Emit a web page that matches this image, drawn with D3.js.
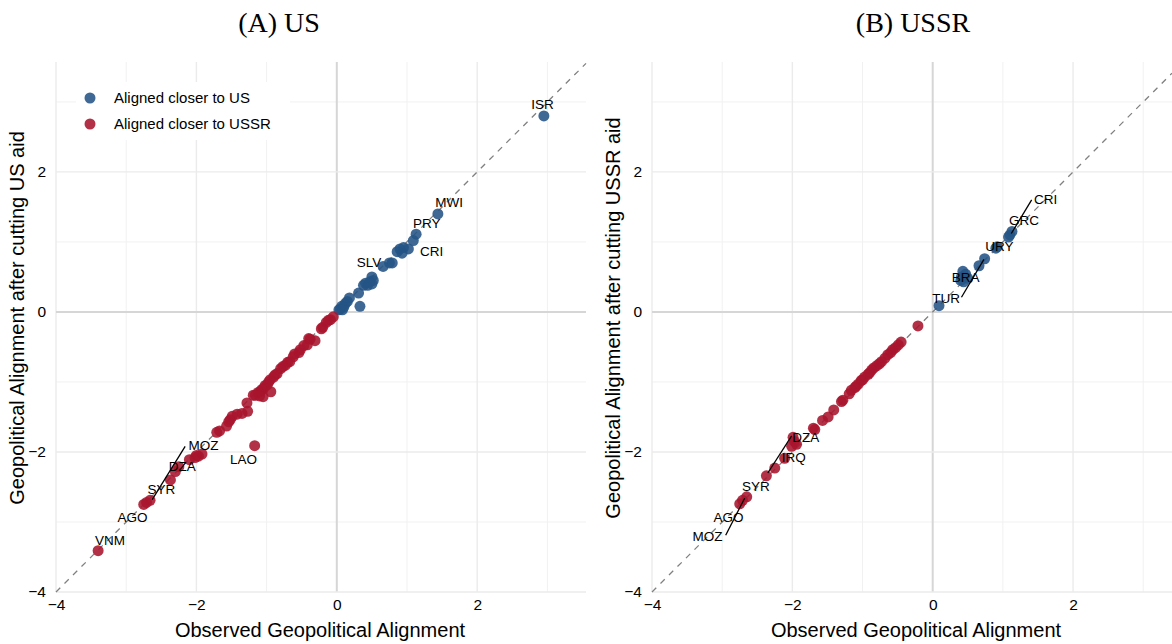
<!DOCTYPE html>
<html>
<head>
<meta charset="utf-8">
<script src="https://cdn.jsdelivr.net/npm/d3@7"></script>
<style>
	body { margin: 0; background: #fff; }
	svg text { font-family: "Liberation Sans", Arial, sans-serif; fill: #000; }
	.title { font-family: "Liberation Serif", serif !important; font-size: 28px; }
	.tick text { font-size: 15.5px; }
	.axis-title { font-size: 20px; }
	.lab { font-size: 13.5px; }
</style>
</head>
<body>
<svg id="chart" width="1172" height="644"></svg>
<script>

// panel A: observed vs counterfactual after cutting US aid
var usObserved = [2.95, 1.44, 1.13, 1.09, 0.90, 0.95, 1.02, 0.93, 0.86, 0.79, 0.75, 0.66, 0.50, 0.52, 0.47, 0.41, 0.44, 0.50, 0.38, 0.31, 0.33, 0.18, 0.15, 0.12, 0.10, 0.07, 0.05, 0.03, 0.08,
	-0.05, -0.09, -0.12, -0.15, -0.20, -0.22, -0.31, -0.38, -0.40, -0.42, -0.47, -0.52, -0.54, -0.60, -0.62, -0.67, -0.70, -0.73, -0.77, -0.80, -0.85, -0.88, -0.90, -0.95, -0.97, -0.99, -1.02, -1.04, -1.07, -1.09, -1.12, -1.16, -1.19, -0.94, -1.05, -1.10, -1.28, -1.27, -1.35, -1.42, -1.49, -1.52, -1.54, -1.57, -1.67, -1.71,
	-1.17, -1.92, -1.97, -2.02, -2.10, -2.00, -2.25, -2.30, -2.37, -2.66, -2.71, -2.75, -3.40];
var usCut = [2.80, 1.40, 1.11, 1.02, 0.90, 0.92, 0.90, 0.84, 0.86, 0.70, 0.70, 0.65, 0.50, 0.45, 0.43, 0.41, 0.38, 0.40, 0.38, 0.27, 0.08, 0.20, 0.15, 0.12, 0.07, 0.08, 0.04, 0.03, 0.03,
	-0.07, -0.11, -0.12, -0.15, -0.22, -0.24, -0.41, -0.39, -0.38, -0.47, -0.48, -0.54, -0.58, -0.60, -0.64, -0.71, -0.72, -0.76, -0.78, -0.81, -0.88, -0.90, -0.93, -0.97, -1.00, -1.04, -1.05, -1.09, -1.11, -1.14, -1.15, -1.19, -1.19, -1.14, -1.21, -1.20, -1.30, -1.42, -1.45, -1.46, -1.49, -1.54, -1.57, -1.63, -1.70, -1.72,
	-1.91, -2.03, -2.06, -2.08, -2.11, -2.05, -2.21, -2.28, -2.40, -2.69, -2.72, -2.75, -3.41];
var usLabels = ["ISR", "MWI", "PRY", "CRI", "SLV", "LAO", "MOZ", "DZA", "SYR", "AGO", "VNM"];
var usLabelX = [2.93, 1.60, 1.28, 1.35, 0.46, -1.33, -1.90, -2.20, -2.50, -2.91, -3.23];
var usLabelY = [2.97, 1.56, 1.26, 0.86, 0.71, -2.10, -1.91, -2.21, -2.53, -2.93, -3.26];
var usSegments = [[-2.63, -2.68, -2.16, -1.92]];

// panel B: observed vs counterfactual after cutting USSR aid
var ussrObserved = [0.09, 0.43, 0.47, 0.41, 0.50, 0.44, 0.40, 0.66, 0.74, 0.90, 0.92, 1.10, 1.13, 1.08,
	-0.21, -0.45, -0.49, -0.53, -0.57, -0.60, -0.64, -0.68, -0.73, -0.76, -0.80, -0.84, -0.87, -0.90, -0.92, -0.97, -1.00, -1.02, -1.06, -1.09, -1.11, -1.16, -1.19, -1.28, -1.30, -1.41, -1.49, -1.57, -1.68, -1.70,
	-1.94, -1.99, -2.01, -1.97, -2.11, -2.25, -2.37, -2.65, -2.71, -2.75];
var ussrCut = [0.09, 0.58, 0.54, 0.50, 0.48, 0.43, 0.45, 0.66, 0.76, 0.91, 0.93, 1.10, 1.15, 1.07,
	-0.20, -0.43, -0.47, -0.51, -0.54, -0.58, -0.61, -0.66, -0.71, -0.74, -0.77, -0.80, -0.83, -0.87, -0.89, -0.93, -0.97, -0.98, -1.03, -1.06, -1.08, -1.12, -1.17, -1.26, -1.28, -1.40, -1.50, -1.55, -1.68, -1.66,
	-1.89, -1.79, -1.92, -1.85, -2.09, -2.23, -2.34, -2.64, -2.69, -2.74];
var ussrLabels = ["CRI", "GRC", "URY", "BRA", "TUR", "DZA", "IRQ", "SYR", "AGO", "MOZ"];
var ussrLabelX = [1.61, 1.30, 0.95, 0.47, 0.19, -1.81, -1.98, -2.52, -2.91, -3.21];
var ussrLabelY = [1.61, 1.31, 0.94, 0.49, 0.19, -1.79, -2.07, -2.49, -2.93, -3.20];
var ussrSegments = [[1.12, 1.12, 1.41, 1.60], [0.41, 0.21, 0.73, 0.75], [-2.35, -2.30, -2.01, -1.77], [-2.68, -2.66, -2.95, -3.19]];

var groupNames = ["Aligned closer to US", "Aligned closer to USSR"];
var majorTicks = [-4, -2, 0, 2];
var minorTicks = [-3, -1, 1, 3];

var blue = "#245485", red = "#a8152d";
var color = d3.scaleThreshold().domain([0]).range([red, blue]);

var svg = d3.select("#chart");

function drawPanel(p) {
	var x = d3.scaleLinear().domain([-4, p.xmax]).range([p.left, p.right]),
		y = d3.scaleLinear().domain([-4, 3.57]).range([592, 62]);

	var g = svg.append("g");

	// grid
	g.selectAll(".minx").data(minorTicks.filter(function(d) { return d < p.xmax; }))
		.enter().append("line")
		.attr("x1", x).attr("x2", x).attr("y1", y(-4)).attr("y2", y(3.57))
		.attr("stroke", "#f1f1f1").attr("stroke-width", 1);
	g.selectAll(".miny").data(minorTicks)
		.enter().append("line")
		.attr("x1", p.left).attr("x2", p.right).attr("y1", y).attr("y2", y)
		.attr("stroke", "#f1f1f1").attr("stroke-width", 1);
	g.selectAll(".majx").data(majorTicks)
		.enter().append("line")
		.attr("x1", x).attr("x2", x).attr("y1", y(-4)).attr("y2", y(3.57))
		.attr("stroke", function(d) { return d === 0 ? "#d6d6d6" : "#ebebeb"; })
		.attr("stroke-width", function(d) { return d === 0 ? 2 : 1.4; });
	g.selectAll(".majy").data(majorTicks)
		.enter().append("line")
		.attr("x1", p.left).attr("x2", p.right).attr("y1", y).attr("y2", y)
		.attr("stroke", function(d) { return d === 0 ? "#d6d6d6" : "#ebebeb"; })
		.attr("stroke-width", function(d) { return d === 0 ? 2 : 1.4; });

	// 45 degree line
	var lim = Math.min(p.xmax, 3.57);
	g.append("line")
		.attr("x1", x(-4)).attr("y1", y(-4))
		.attr("x2", x(lim)).attr("y2", y(lim))
		.attr("stroke", "#808080").attr("stroke-width", 1.3)
		.attr("stroke-dasharray", "6,6");

	// axes
	g.append("g")
		.attr("class", "axis axis--x")
		.attr("transform", "translate(0," + 597 + ")")
		.call(d3.axisBottom(x).tickValues(majorTicks).tickSize(0).tickPadding(2).tickFormat(d3.format("d")))
		.call(function(s) { s.select(".domain").remove(); });
	g.append("g")
		.attr("class", "axis axis--y")
		.attr("transform", "translate(" + (p.left - 6) + ",0)")
		.call(d3.axisLeft(y).tickValues(majorTicks).tickSize(0).tickPadding(4).tickFormat(d3.format("d")))
		.call(function(s) { s.select(".domain").remove(); });
	g.selectAll(".tick text").attr("fill", "#111").style("font-family", "'Liberation Sans', Arial, sans-serif");

	// points
	var pts = p.obs.map(function(d, i) { return {x: d, y: p.cut[i]}; });
	g.selectAll(".dot").data(pts)
		.enter().append("circle")
		.attr("class", "dot")
		.attr("r", 5.5)
		.attr("cx", function(d) { return x(d.x); })
		.attr("cy", function(d) { return y(d.y); })
		.attr("fill", function(d) { return color(d.x); })
		.style("opacity", 0.88);

	// repel segments and labels
	g.selectAll(".seg").data(p.segs)
		.enter().append("line")
		.attr("x1", function(d) { return x(d[0]); })
		.attr("y1", function(d) { return y(d[1]); })
		.attr("x2", function(d) { return x(d[2]); })
		.attr("y2", function(d) { return y(d[3]); })
		.attr("stroke", "#000").attr("stroke-width", 1.3);
	g.selectAll(".lab").data(p.labels)
		.enter().append("text")
		.attr("class", "lab")
		.attr("x", function(d, i) { return x(p.lx[i]); })
		.attr("y", function(d, i) { return y(p.ly[i]); })
		.attr("dy", "0.35em")
		.attr("text-anchor", "middle")
		.text(function(d) { return d; });

	// titles
	svg.append("text")
		.attr("class", "title")
		.attr("x", p.titleX).attr("y", 32)
		.attr("text-anchor", "middle")
		.text(p.title);
	svg.append("text")
		.attr("class", "axis-title")
		.attr("x", p.xtitleX).attr("y", 637)
		.attr("text-anchor", "middle")
		.text("Observed Geopolitical Alignment");
	svg.append("text")
		.attr("class", "axis-title")
		.attr("transform", "translate(" + p.ytitleX + "," + 318 + ") rotate(-90)")
		.attr("text-anchor", "middle")
		.text(p.ytitle);

	return {x: x, y: y};
}

drawPanel({
	left: 56, right: 586, xmax: 3.55,
	obs: usObserved, cut: usCut,
	labels: usLabels, lx: usLabelX, ly: usLabelY, segs: usSegments,
	title: "(A) US", titleX: 279, xtitleX: 320, ytitleX: 24,
	ytitle: "Geopolitical Alignment after cutting US aid"
});

drawPanel({
	left: 652, right: 1172, xmax: 3.41,
	obs: ussrObserved, cut: ussrCut,
	labels: ussrLabels, lx: ussrLabelX, ly: ussrLabelY, segs: ussrSegments,
	title: "(B) USSR", titleX: 913, xtitleX: 916, ytitleX: 620,
	ytitle: "Geopolitical Alignment after cutting USSR aid"
});

// legend (panel A)
var legend = svg.append("g").attr("transform", "translate(76,82)");
legend.append("rect")
	.attr("width", 214).attr("height", 58)
	.attr("fill", "#fff");
legend.selectAll(".key").data(groupNames)
	.enter().append("circle")
	.attr("cx", 14)
	.attr("cy", function(d, i) { return 16 + i * 26; })
	.attr("r", 5.5)
	.attr("fill", function(d, i) { return i === 0 ? blue : red; })
	.style("opacity", 0.88);
legend.selectAll(".keytext").data(groupNames)
	.enter().append("text")
	.attr("x", 38)
	.attr("y", function(d, i) { return 16 + i * 26; })
	.attr("dy", "0.35em")
	.style("font-size", "15px")
	.text(function(d) { return d; });

</script>
</body>
</html>
